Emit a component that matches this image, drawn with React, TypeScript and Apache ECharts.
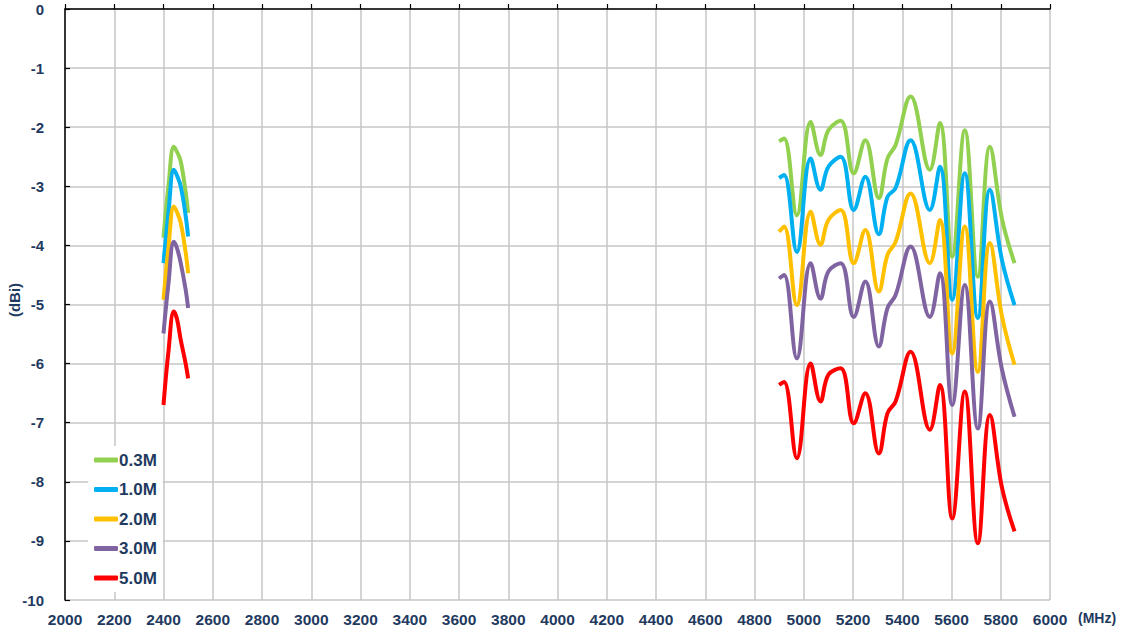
import React, { useEffect, useRef } from "react";
import * as echarts from "echarts";

const seriesNames = ["0.3M", "1.0M", "2.0M", "3.0M", "5.0M"];
const seriesColors = ["#92D050", "#00B0F0", "#FFC000", "#8064A2", "#FF0000"];

const freqLeft = [2400, 2420, 2442, 2455, 2470, 2490, 2500];
const freqRight = [4900, 4920, 4972, 5028, 5068, 5100, 5150, 5203, 5250, 5305, 5340, 5373, 5434, 5512, 5553, 5603, 5654, 5707, 5756, 5805, 5856];

const leftG03 = [-3.87, -3.0, -2.33, -2.42, -2.58, -3.1, -3.45];
const leftB10 = [-4.3, -3.45, -2.72, -2.82, -3.0, -3.5, -3.85];
const leftO20 = [-4.92, -4.05, -3.34, -3.44, -3.62, -4.12, -4.47];
const leftP30 = [-5.49, -4.65, -3.94, -4.05, -4.3, -4.75, -5.06];
const leftR50 = [-6.7, -5.8, -5.12, -5.25, -5.6, -6.0, -6.25];

const rightG03 = [-2.24, -2.19, -3.49, -1.91, -2.47, -2.05, -1.89, -2.78, -2.22, -3.2, -2.53, -2.3, -1.48, -2.72, -1.93, -4.19, -2.05, -4.53, -2.33, -3.55, -4.3];
const rightB10 = [-2.86, -2.81, -4.11, -2.53, -3.06, -2.67, -2.5, -3.4, -2.84, -3.81, -3.18, -3.03, -2.22, -3.4, -2.67, -4.92, -2.78, -5.23, -3.06, -4.25, -5.01];
const rightO20 = [-3.77, -3.68, -5.01, -3.43, -3.99, -3.57, -3.4, -4.3, -3.74, -4.78, -4.16, -3.94, -3.12, -4.3, -3.57, -5.83, -3.68, -6.14, -3.96, -5.2, -6.02];
const rightP30 = [-4.56, -4.5, -5.91, -4.3, -4.9, -4.44, -4.3, -5.21, -4.61, -5.71, -5.06, -4.84, -4.02, -5.21, -4.47, -6.7, -4.67, -7.1, -4.95, -6.1, -6.9];
const rightR50 = [-6.36, -6.31, -7.6, -6.0, -6.64, -6.19, -6.08, -7.01, -6.5, -7.52, -6.84, -6.64, -5.8, -7.12, -6.36, -8.62, -6.47, -9.04, -6.87, -8.1, -8.84];

const leftValues = [leftG03, leftB10, leftO20, leftP30, leftR50];
const rightValues = [rightG03, rightB10, rightO20, rightP30, rightR50];

const TEXT = "#1F3A60";
const FONT = "'Liberation Sans', Arial, sans-serif";

export default function App() {
  const ref = useRef<HTMLDivElement>(null);
  useEffect(() => {
    if (!ref.current) return;
    const chart = echarts.init(ref.current, null, { renderer: "svg" });
    const series = seriesNames.map((name, i) => {
      const data: any[] = [];
      freqLeft.forEach((f, j) => data.push([f, leftValues[i][j]]));
      data.push([3600, null]);
      freqRight.forEach((f, j) => data.push([f, rightValues[i][j]]));
      return {
        name,
        type: "line",
        data,
        smooth: 0.4,
        showSymbol: false,
        connectNulls: false,
        lineStyle: { color: seriesColors[i], width: 4 },
        itemStyle: { color: seriesColors[i] },
      };
    });
    chart.setOption({
      animation: false,
      backgroundColor: "#fff",
      textStyle: { fontFamily: FONT },
      grid: { left: 65, top: 9, right: 79, bottom: 29, containLabel: false, outerBoundsMode: "none" },
      xAxis: {
        type: "value",
        min: 2000,
        max: 6000,
        interval: 200,
        axisLine: { show: true, lineStyle: { color: "#000", width: 1.5 } },
        axisTick: { show: true, inside: true, length: 5, lineStyle: { color: "#000", width: 1.2 } },
        axisLabel: { color: TEXT, fontSize: 15.5, fontWeight: "bold", fontFamily: FONT, margin: 11, formatter: (v: number) => String(v) },
        splitLine: { show: true, lineStyle: { color: "#C6C6C6", width: 1.5 } },
      },
      yAxis: {
        type: "value",
        min: -10,
        max: 0,
        interval: 1,
        axisLine: { show: true, lineStyle: { color: "#000", width: 1.5 } },
        axisTick: { show: true, inside: true, length: 5, lineStyle: { color: "#000", width: 1.2 } },
        axisLabel: { color: TEXT, fontSize: 15, fontWeight: "bold", fontFamily: FONT, margin: 21, formatter: (v: number) => String(v) },
        splitLine: { show: true, lineStyle: { color: "#C6C6C6", width: 1.5 } },
      },
      legend: {
        orient: "vertical",
        left: 88,
        top: 446,
        padding: [5, 6, 5, 6],
        backgroundColor: "#fff",
        itemWidth: 24,
        itemHeight: 5,
        itemGap: 11.5,
        icon: "roundRect",
        textStyle: { color: TEXT, fontSize: 17, fontWeight: "bold", fontFamily: FONT, lineHeight: 18, padding: [0, 0, 0, -4] },
        data: seriesNames,
      },
      graphic: [
        {
          type: "text",
          left: 1078,
          top: 611,
          style: { text: "(MHz)", fill: TEXT, fontSize: 14, fontWeight: "bold", fontFamily: FONT },
        },
        {
          type: "text",
          x: 14,
          y: 300,
          rotation: Math.PI / 2,
          style: { text: "(dBi)", fill: TEXT, fontSize: 15, fontWeight: "bold", fontFamily: FONT, align: "center", verticalAlign: "middle" },
        },
      ],
      series,
    });
    return () => chart.dispose();
  }, []);
  return <div ref={ref} style={{ position: "fixed", left: 0, top: 0, width: 1129, height: 629 }} />;
}
